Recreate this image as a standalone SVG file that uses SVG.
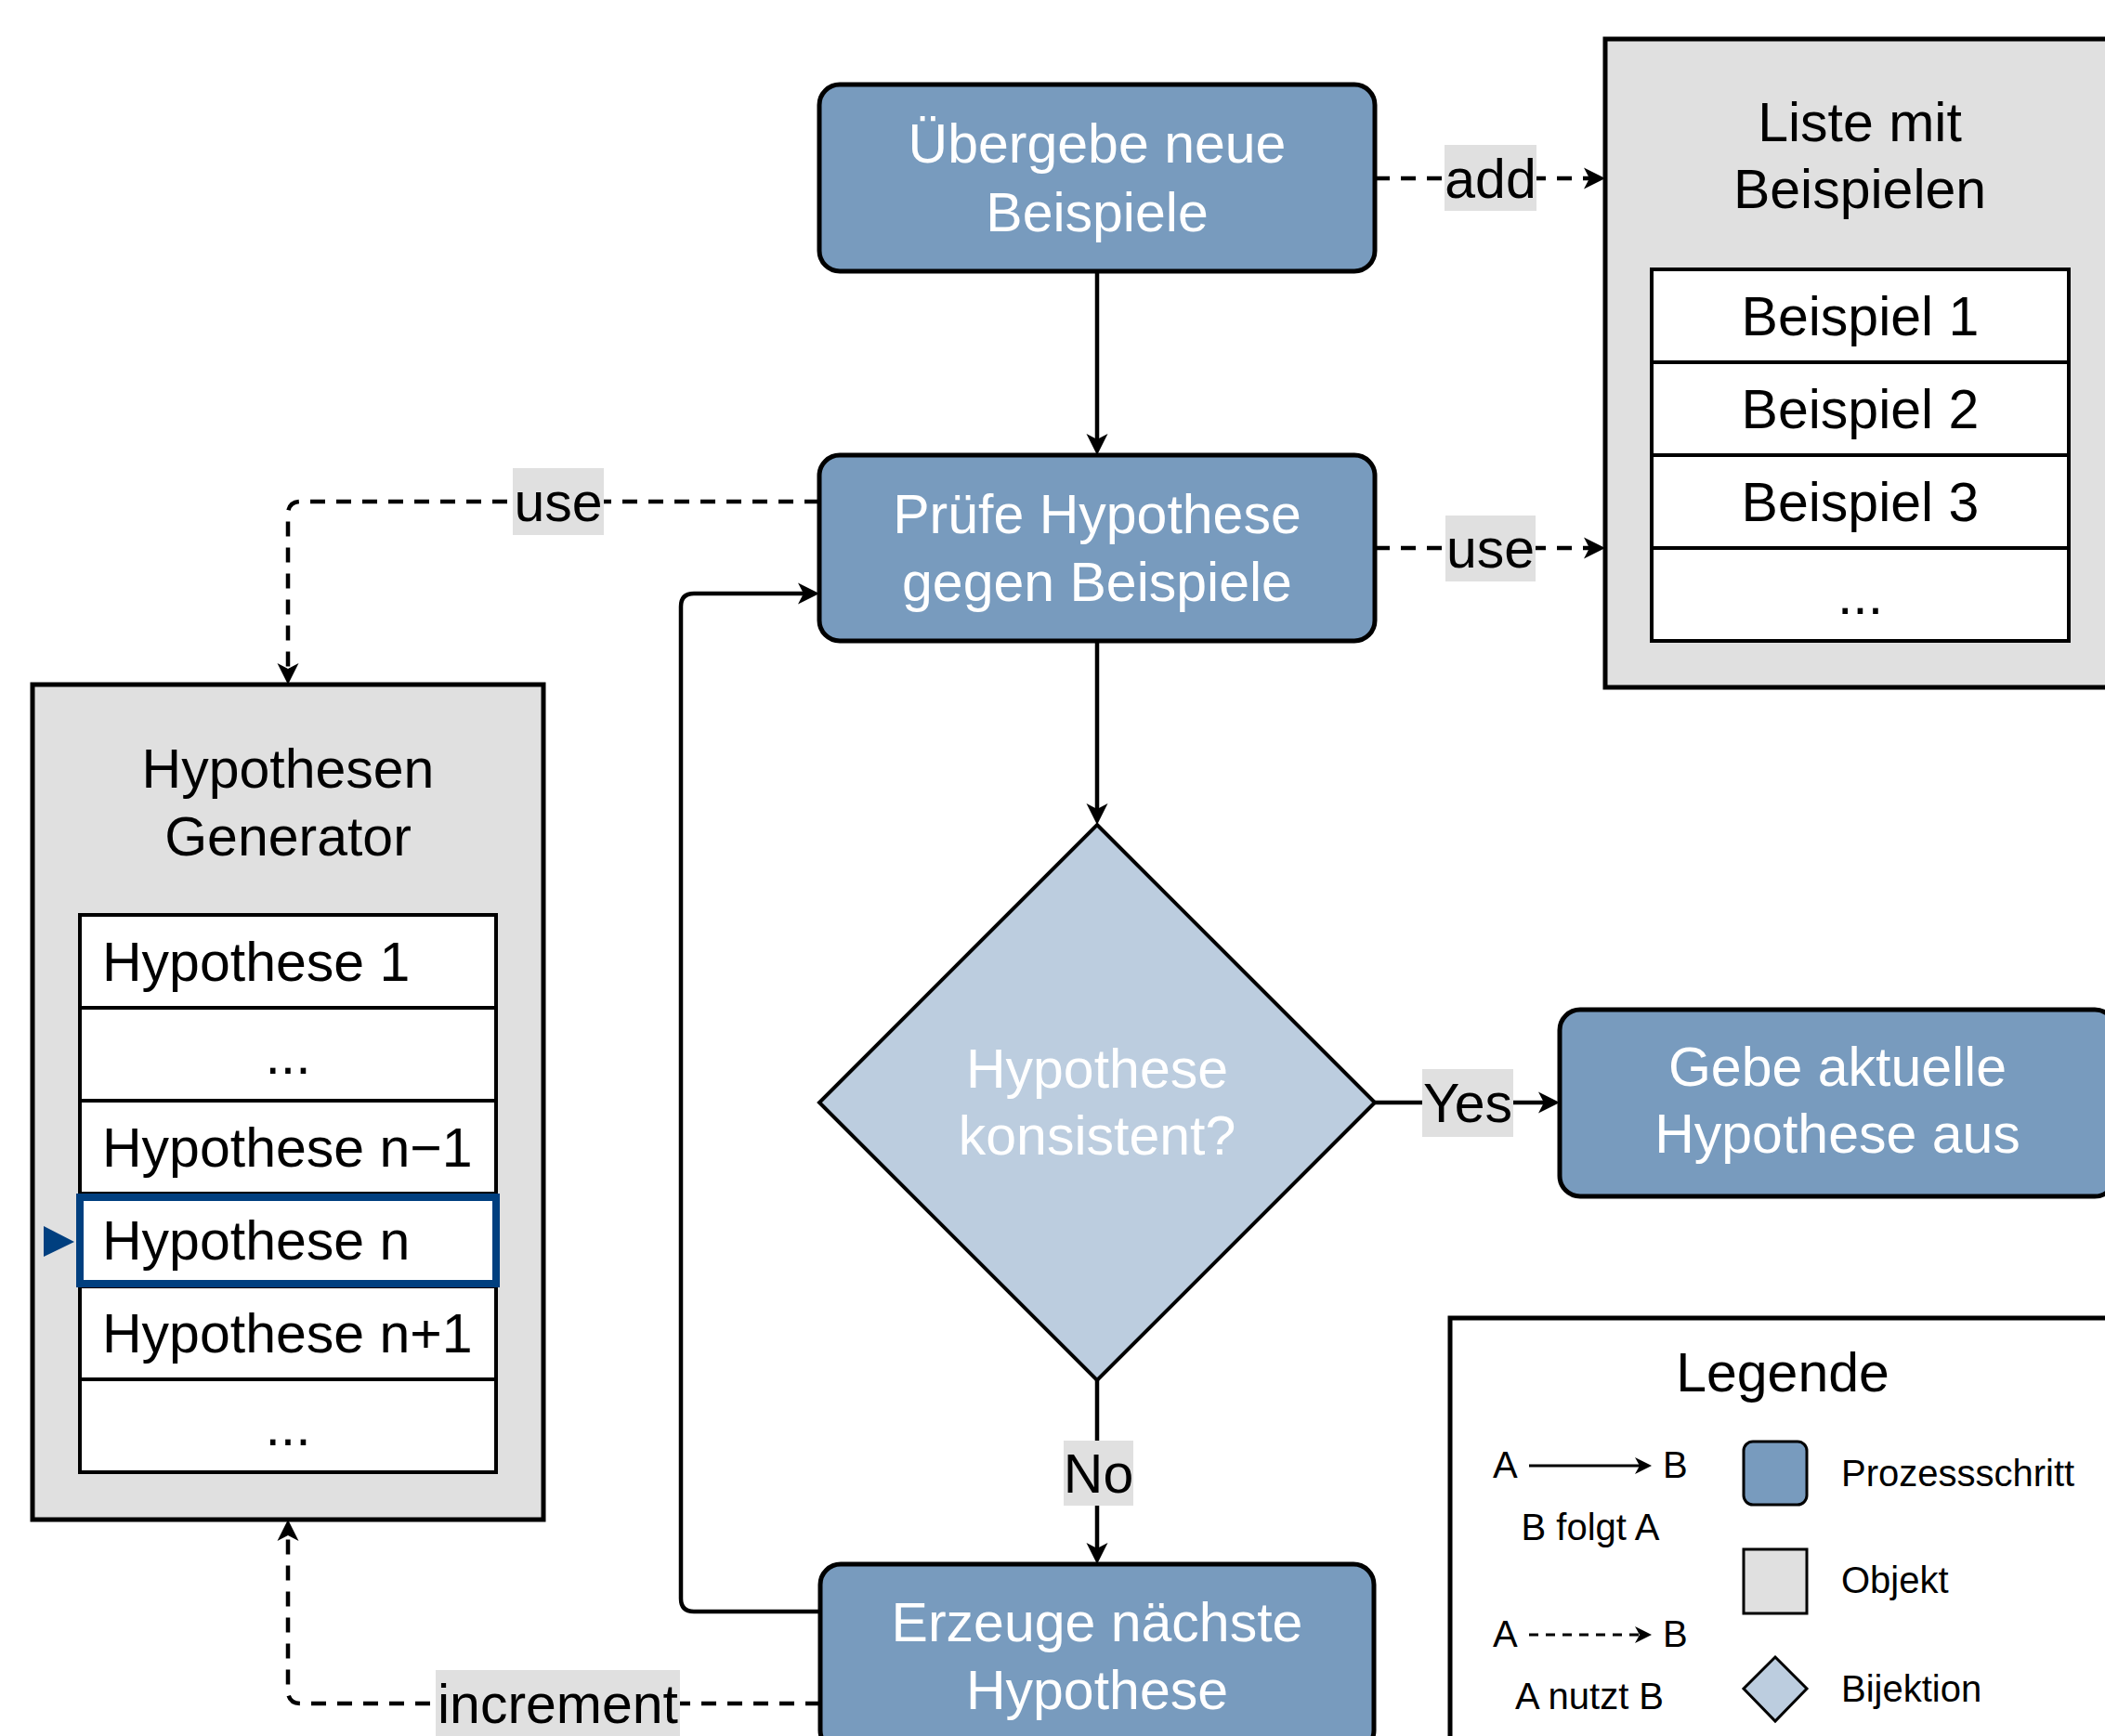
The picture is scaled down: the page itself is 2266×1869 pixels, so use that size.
<svg xmlns="http://www.w3.org/2000/svg" width="2266" height="1869" viewBox="0 0 2266 1869">
<defs>
<style>
text{font-family:"Liberation Sans",Arial,Helvetica,sans-serif;}
.t{font-size:59px;fill:#000;}
.w{font-size:59px;fill:#fff;text-anchor:middle;}
.c{text-anchor:middle;}
.s{font-size:40px;fill:#000;}
.proc{fill:#789bbe;stroke:#000;stroke-width:5;}
.obj{fill:#e0e0e0;stroke:#000;stroke-width:5;}
.cell{fill:#fff;stroke:#000;stroke-width:4;}
.dia{fill:#bccddf;stroke:#000;stroke-width:4;}
.ln{fill:none;stroke:#000;stroke-width:4.5;}
.dash{stroke-dasharray:16 12;}
.lbl{fill:#e0e0e0;}
</style>
<marker id="ah" markerUnits="userSpaceOnUse" markerWidth="26" markerHeight="26" refX="10" refY="0" viewBox="0 -13 26 26" orient="auto" overflow="visible">
<path d="M0,-11.5 L23,0 L0,11.5 L6,0 Z" fill="#000"/>
</marker>
<marker id="ahs" markerUnits="userSpaceOnUse" markerWidth="20" markerHeight="20" refX="8" refY="0" viewBox="0 -10 20 20" orient="auto" overflow="visible">
<path d="M0,-9 L18,0 L0,9 L5,0 Z" fill="#000"/>
</marker>
</defs>
<rect x="0" y="0" width="2266" height="1869" fill="#fff"/>

<g id="connectors">
<path class="ln" d="M1181,292 V477" marker-end="url(#ah)"/>
<path class="ln" d="M1181,690 V875" marker-end="url(#ah)"/>
<path class="ln" d="M1480,1187 H1666" marker-end="url(#ah)"/>
<path class="ln" d="M1181,1486 V1671" marker-end="url(#ah)"/>
<path class="ln" d="M883,1735 H747 Q733,1735 733,1721 V653 Q733,639 747,639 H869" marker-end="url(#ah)"/>
<path class="ln dash" d="M1480,192 H1715" marker-end="url(#ah)"/>
<path class="ln dash" d="M1480,590 H1715" marker-end="url(#ah)"/>
<path class="ln dash" d="M882,540 H324 Q310,540 310,554 V724" marker-end="url(#ah)"/>
<path class="ln dash" d="M883,1834 H324 Q310,1834 310,1820 V1649" marker-end="url(#ah)"/>
<rect class="lbl" x="1555" y="156" width="99" height="71"/>
<text class="t c" x="1604.5" y="213">add</text>
<rect class="lbl" x="1556" y="555" width="97" height="71"/>
<text class="t c" x="1604.5" y="611">use</text>
<rect class="lbl" x="552" y="504" width="98" height="72"/>
<text class="t c" x="601" y="561">use</text>
<rect class="lbl" x="1531" y="1151" width="98" height="73"/>
<text class="t c" x="1580" y="1208">Yes</text>
<rect class="lbl" x="1145" y="1551" width="75" height="70"/>
<text class="t c" x="1182.5" y="1607">No</text>
<rect class="lbl" x="469" y="1798" width="263" height="71"/>
<text class="t c" x="600.5" y="1855">increment</text>
</g>

<g id="node-uebergebe">
<rect class="proc" x="882" y="91" width="598" height="201" rx="22"/>
<text class="w" x="1181" y="175">Übergebe neue</text>
<text class="w" x="1181" y="249">Beispiele</text>
</g>

<g id="node-pruefe">
<rect class="proc" x="882" y="490" width="598" height="200" rx="22"/>
<text class="w" x="1181" y="574">Prüfe Hypothese</text>
<text class="w" x="1181" y="647">gegen Beispiele</text>
</g>

<g id="node-konsistent">
<polygon class="dia" points="1181,888 1480,1187 1181,1486 882,1187"/>
<text class="w" x="1181" y="1171">Hypothese</text>
<text class="w" x="1181" y="1243">konsistent?</text>
</g>

<g id="node-gebe">
<rect class="proc" x="1679" y="1087" width="598" height="201" rx="22"/>
<text class="w" x="1978" y="1169">Gebe aktuelle</text>
<text class="w" x="1978" y="1241">Hypothese aus</text>
</g>

<g id="node-erzeuge">
<rect class="proc" x="883" y="1684" width="596" height="201" rx="22"/>
<text class="w" x="1181" y="1767">Erzeuge nächste</text>
<text class="w" x="1181" y="1840">Hypothese</text>
</g>

<g id="node-liste">
<rect class="obj" x="1728" y="42" width="549" height="698"/>
<text class="t c" x="2002" y="152">Liste mit</text>
<text class="t c" x="2002" y="224">Beispielen</text>
<rect class="cell" x="1778" y="290" width="449" height="100"/>
<rect class="cell" x="1778" y="390" width="449" height="100"/>
<rect class="cell" x="1778" y="490" width="449" height="100"/>
<rect class="cell" x="1778" y="590" width="449" height="100"/>
<text class="t c" x="2002.5" y="361">Beispiel 1</text>
<text class="t c" x="2002.5" y="461">Beispiel 2</text>
<text class="t c" x="2002.5" y="561">Beispiel 3</text>
<text class="t c" x="2002.5" y="661">...</text>
</g>

<g id="node-generator">
<rect class="obj" x="35" y="737" width="550" height="899"/>
<text class="t c" x="310" y="848">Hypothesen</text>
<text class="t c" x="310" y="921">Generator</text>
<rect class="cell" x="86" y="985" width="448" height="100"/>
<rect class="cell" x="86" y="1085" width="448" height="100"/>
<rect class="cell" x="86" y="1185" width="448" height="100"/>
<rect class="cell" x="86" y="1285" width="448" height="100"/>
<rect class="cell" x="86" y="1385" width="448" height="100"/>
<rect class="cell" x="86" y="1485" width="448" height="100"/>
<rect x="86" y="1289" width="448" height="93" fill="none" stroke="#003f7f" stroke-width="8"/>
<polygon points="47,1320 80,1337 47,1353" fill="#003f7f"/>
<text class="t" x="110" y="1056">Hypothese 1</text>
<text class="t c" x="310" y="1156">...</text>
<text class="t" x="110" y="1256">Hypothese n−1</text>
<text class="t" x="110" y="1356">Hypothese n</text>
<text class="t" x="110" y="1456">Hypothese n+1</text>
<text class="t c" x="310" y="1556">...</text>
</g>

<g id="legend">
<rect x="1561" y="1419" width="740" height="480" fill="#fff" stroke="#000" stroke-width="5"/>
<text class="t c" x="1919" y="1498">Legende</text>
<text class="s" x="1607" y="1591">A</text>
<path d="M1646,1578 H1768" fill="none" stroke="#000" stroke-width="3" marker-end="url(#ahs)"/>
<text class="s" x="1790" y="1591">B</text>
<text class="s c" x="1712" y="1658">B folgt A</text>
<text class="s" x="1607" y="1773">A</text>
<path d="M1646,1760 H1768" fill="none" stroke="#000" stroke-width="3" stroke-dasharray="10 8" marker-end="url(#ahs)"/>
<text class="s" x="1790" y="1773">B</text>
<text class="s c" x="1711" y="1840">A nutzt B</text>
<rect x="1877" y="1552" width="68" height="68" rx="10" fill="#789bbe" stroke="#000" stroke-width="3"/>
<text class="s" x="1982" y="1600">Prozessschritt</text>
<rect x="1877" y="1668" width="68" height="69" fill="#e0e0e0" stroke="#000" stroke-width="3"/>
<text class="s" x="1982" y="1715">Objekt</text>
<polygon points="1911,1784 1945,1818 1911,1853 1877,1818" fill="#bccddf" stroke="#000" stroke-width="3"/>
<text class="s" x="1982" y="1832">Bijektion</text>
</g>
</svg>
